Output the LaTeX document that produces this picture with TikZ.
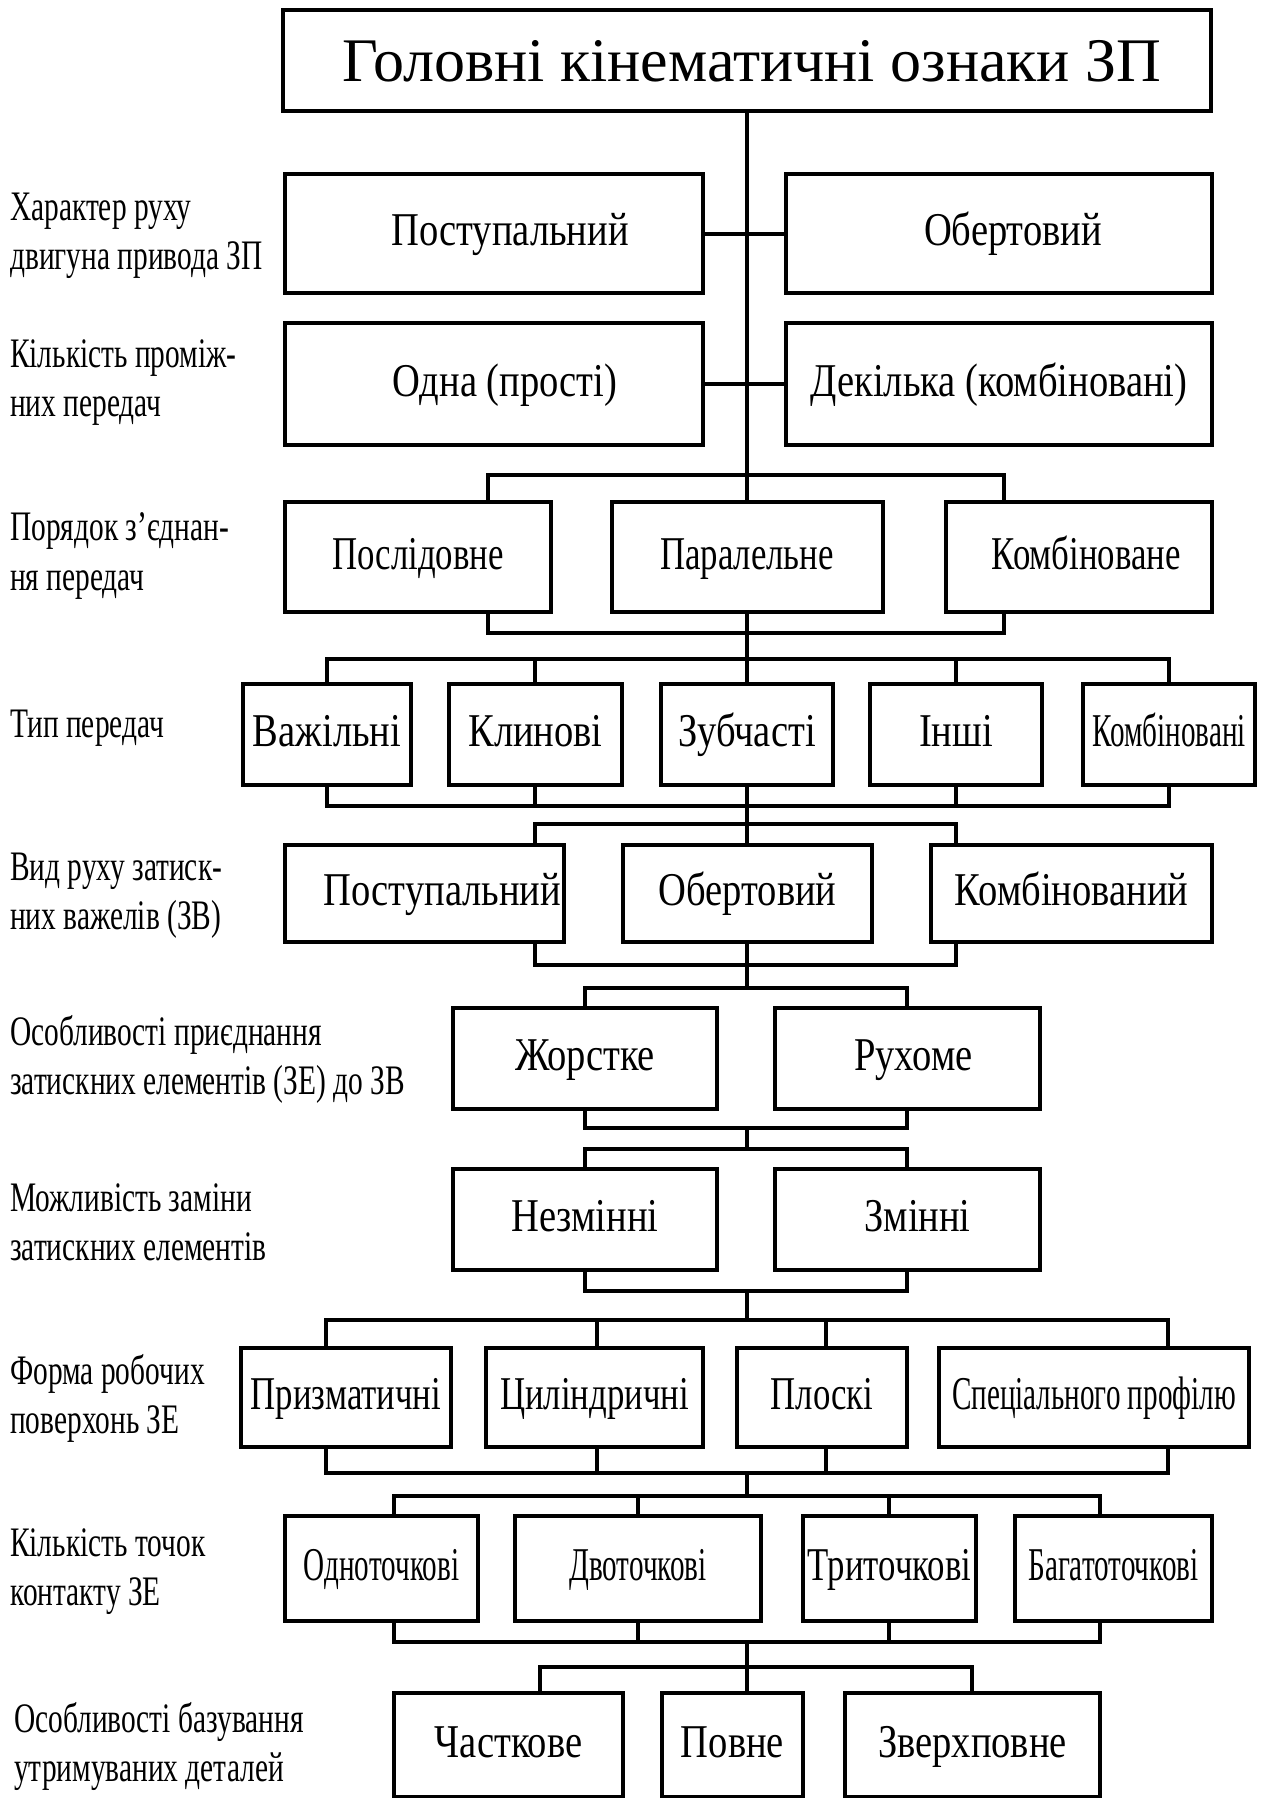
\documentclass[tikz,border=0pt]{standalone}
\usepackage{fontspec}
\setmainfont{Liberation Serif}
\newfontfamily\midfont{Liberation Serif}[FakeStretch=0.82]
\newfontfamily\nrwfont{Liberation Serif}[FakeStretch=0.74]
\newfontfamily\slimfont{Liberation Serif}[FakeStretch=0.62]
\newfontfamily\lblfont{Liberation Serif}[FakeStretch=0.70]

\begin{document}
\begin{tikzpicture}[x=1pt,y=-1pt,
 box/.style={draw,line width=4pt,inner sep=0pt,font=\fontsize{47}{52}\selectfont\midfont,
 text height=34pt,text depth=10pt},
 lbl/.style={anchor=west,inner sep=0pt,align=left,font=\fontsize{42}{49}\selectfont\lblfont},
 ln/.style={line width=4pt}]
\useasboundingbox (0,0) rectangle (1270,1798);
\node[box,font=\fontsize{62}{70}\selectfont,text height=42pt,text depth=0pt,
 minimum width=928pt,minimum height=101pt] (ttl) at (747,60.5) {\hspace*{10pt}Головні кінематичні ознаки ЗП};
% row labels
\node[lbl] (l1) at (10,236) {Характер руху\\двигуна привода ЗП};
\node[lbl] (l2) at (10,383) {Кількість проміж-\\них передач};
\node[lbl] (l3) at (10,556) {Порядок з’єднан-\\ня передач};
\node[lbl] (l4) at (10,728) {Тип передач};
\node[lbl] (l5) at (10,896) {Вид руху затиск-\\них важелів (ЗВ)};
\node[lbl] (l6) at (10,1059) {Особливості приєднання\\затискних елементів (ЗЕ) до ЗВ};
\node[lbl] (l7) at (10,1222) {Можливість заміни\\затискних елементів};
\node[lbl] (l8) at (10,1398) {Форма робочих\\поверхонь ЗЕ};
\node[lbl] (l9) at (10,1572) {Кількість точок\\контакту ЗЕ};
\node[lbl] (l10) at (14,1746) {Особливості базування\\утримуваних деталей};
% boxes
\node[box,minimum width=418pt,minimum height=119pt] (r1a) at (494,233.5) {\hspace*{32pt}Поступальний};
\node[box,minimum width=426pt,minimum height=119pt] (r1b) at (999,233.5) {\hspace*{28pt}Обертовий};
\node[box,minimum width=418pt,minimum height=122pt] (r2a) at (494,384) {\hspace*{22pt}Одна (прості)};
\node[box,minimum width=426pt,minimum height=122pt] (r2b) at (999,384) {Декілька (комбіновані)};
\node[box,minimum width=266pt,minimum height=110pt] (r3a) at (418,557) {\nrwfont Послідовне};
\node[box,minimum width=271pt,minimum height=110pt] (r3b) at (747,557) {\nrwfont Паралельне};
\node[box,minimum width=266pt,minimum height=110pt] (r3c) at (1079,557) {\nrwfont\hspace*{14pt}Комбіноване};
\node[box,minimum width=168pt,minimum height=101pt] (r4a) at (327,734.5) {Важільні};
\node[box,minimum width=173pt,minimum height=101pt] (r4b) at (535.5,734.5) {Клинові};
\node[box,minimum width=172pt,minimum height=101pt] (r4c) at (747,734.5) {Зубчасті};
\node[box,minimum width=172pt,minimum height=101pt] (r4d) at (956,734.5) {Інші};
\node[box,minimum width=172pt,minimum height=101pt] (r4e) at (1169,734.5) {\slimfont Комбіновані};
\node[box,minimum width=279pt,minimum height=97pt] (r5a) at (424.5,893.5) {\hspace*{36pt}Поступальний};
\node[box,minimum width=249pt,minimum height=97pt] (r5b) at (747.5,893.5) {Обертовий};
\node[box,minimum width=281pt,minimum height=97pt] (r5c) at (1071.5,893.5) {Комбінований};
\node[box,minimum width=264pt,minimum height=101pt] (r6a) at (585,1058.5) {Жорстке};
\node[box,minimum width=265pt,minimum height=101pt] (r6b) at (907.5,1058.5) {\hspace*{12pt}Рухоме};
\node[box,minimum width=264pt,minimum height=101pt] (r7a) at (585,1219.5) {Незмінні};
\node[box,minimum width=265pt,minimum height=101pt] (r7b) at (907.5,1219.5) {\hspace*{20pt}Змінні};
\node[box,minimum width=210pt,minimum height=99pt] (r8a) at (346,1397.5) {\nrwfont Призматичні};
\node[box,minimum width=217pt,minimum height=99pt] (r8b) at (594.5,1397.5) {\nrwfont Циліндричні};
\node[box,minimum width=170pt,minimum height=99pt] (r8c) at (822,1397.5) {\nrwfont Плоскі};
\node[box,minimum width=310pt,minimum height=99pt] (r8d) at (1094,1397.5) {\slimfont Спеціального профілю};
\node[box,minimum width=193pt,minimum height=105pt] (r9a) at (381.5,1568.5) {\slimfont Одноточкові};
\node[box,minimum width=246pt,minimum height=105pt] (r9b) at (638,1568.5) {\slimfont Двоточкові};
\node[box,minimum width=173pt,minimum height=105pt] (r9c) at (889.5,1568.5) {\nrwfont Триточкові};
\node[box,minimum width=197pt,minimum height=105pt] (r9d) at (1113.5,1568.5) {\slimfont Багатоточкові};
\node[box,minimum width=229pt,minimum height=104pt] (r10a) at (508.5,1745) {Часткове};
\node[box,minimum width=141pt,minimum height=104pt] (r10b) at (732.5,1745) {Повне};
\node[box,minimum width=255pt,minimum height=104pt] (r10c) at (972.5,1745) {Зверхповне};
% bus junctions on the trunk
\foreach \n/\y in {t3/475,b3/633,t4/659,b4/806,t5/824,b5/965,t6/988,b6/1128,
 t7/1149,b7/1291,t8/1320,b8/1473,t9/1496,b9/1642,t10/1667}
 \coordinate (\n) at (747,\y);
% trunk
\draw[ln] (ttl) -- (t3);
\foreach \a/\b in {b3/t4,b4/t5,b5/t6,b6/t7,b7/t8,b8/t9,b9/t10}
 \draw[ln] (\a) -- (\b);
\draw[ln] (r1a) -- (r1b);
\draw[ln] (r2a) -- (r2b);
% buses
\foreach \n/\x in {r3a/488,r3b/747,r3c/1004}{
 \draw[ln] (\n.north -| \x,0) |- (t3); \draw[ln] (\n.south -| \x,0) |- (b3);}
\foreach \n/\x in {r4a/327,r4b/535,r4c/747,r4d/956,r4e/1169}{
 \draw[ln] (\n.north -| \x,0) |- (t4); \draw[ln] (\n.south -| \x,0) |- (b4);}
\foreach \n/\x in {r5a/535,r5b/747,r5c/956}{
 \draw[ln] (\n.north -| \x,0) |- (t5); \draw[ln] (\n.south -| \x,0) |- (b5);}
\foreach \n/\x in {r6a/585,r6b/907}{
 \draw[ln] (\n.north -| \x,0) |- (t6); \draw[ln] (\n.south -| \x,0) |- (b6);}
\foreach \n/\x in {r7a/585,r7b/907}{
 \draw[ln] (\n.north -| \x,0) |- (t7); \draw[ln] (\n.south -| \x,0) |- (b7);}
\foreach \n/\x in {r8a/326,r8b/597,r8c/826,r8d/1168}{
 \draw[ln] (\n.north -| \x,0) |- (t8); \draw[ln] (\n.south -| \x,0) |- (b8);}
\foreach \n/\x in {r9a/394,r9b/638,r9c/889,r9d/1100}{
 \draw[ln] (\n.north -| \x,0) |- (t9); \draw[ln] (\n.south -| \x,0) |- (b9);}
\foreach \n/\x in {r10a/540,r10b/747,r10c/972}
 \draw[ln] (\n.north -| \x,0) |- (t10);
\end{tikzpicture}
\end{document}
